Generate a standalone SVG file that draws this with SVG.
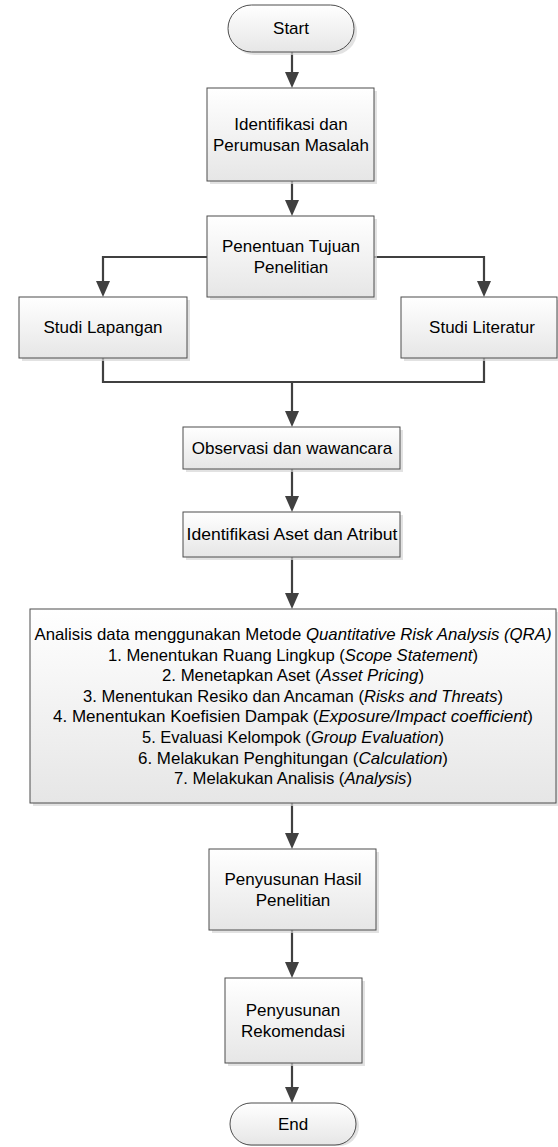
<svg xmlns="http://www.w3.org/2000/svg" width="558" height="1147" viewBox="0 0 558 1147">
<style>
.box{fill:url(#g);stroke:#4d4d4d;stroke-width:1}
.sh{fill:#d6d6d6;opacity:0.7}
.t{font-family:"Liberation Sans",Arial,sans-serif;font-size:17px;fill:#000;text-anchor:middle}
.q{font-family:"Liberation Sans",Arial,sans-serif;font-size:16.5px;fill:#000;text-anchor:middle}
.i{font-style:italic}
.c{fill:none;stroke:#404040;stroke-width:2.2}
</style>
<defs>
<linearGradient id="g" x1="0" y1="0" x2="0" y2="1">
<stop offset="0" stop-color="#ffffff"/>
<stop offset="1" stop-color="#e6e6e6"/>
</linearGradient>
<marker id="a" markerUnits="userSpaceOnUse" viewBox="0 0 16 14" markerWidth="16" markerHeight="14" refX="12" refY="7" orient="auto">
<path d="M0,0 L16,7 L0,14 z" fill="#404040"/>
</marker>
</defs>
<rect width="558" height="1147" fill="#ffffff"/>
<g id="connectors">
<polyline class="c" points="292,52 292,84" marker-end="url(#a)"/>
<polyline class="c" points="292,181 292,212" marker-end="url(#a)"/>
<polyline class="c" points="207,257 103,257 103,293" marker-end="url(#a)"/>
<polyline class="c" points="374,257 484,257 484,293" marker-end="url(#a)"/>
<polyline class="c" points="103,358 103,382 484,382 484,358"/>
<polyline class="c" points="292,382 292,423" marker-end="url(#a)"/>
<polyline class="c" points="292,469 292,508" marker-end="url(#a)"/>
<polyline class="c" points="292,557 292,605" marker-end="url(#a)"/>
<polyline class="c" points="292,803 292,845" marker-end="url(#a)"/>
<polyline class="c" points="292,930 292,974" marker-end="url(#a)"/>
<polyline class="c" points="292,1063 292,1099" marker-end="url(#a)"/>
</g>
<g id="start">
<rect class="sh" x="231" y="8" width="126" height="47" rx="23.5"/>
<rect class="box" x="228" y="5" width="126" height="47" rx="23.5"/>
<text class="t" x="291" y="34">Start</text>
</g>
<g id="identifikasi">
<rect class="sh" x="210" y="91" width="167" height="93"/>
<rect class="box" x="207" y="88" width="167" height="93"/>
<text class="t" x="291" y="129.5">Identifikasi dan</text>
<text class="t" x="291" y="150.5">Perumusan Masalah</text>
</g>
<g id="penentuan">
<rect class="sh" x="210" y="219" width="167" height="81"/>
<rect class="box" x="207" y="216" width="167" height="81"/>
<text class="t" x="291" y="251.5">Penentuan Tujuan</text>
<text class="t" x="291" y="272.5">Penelitian</text>
</g>
<g id="studi-lapangan">
<rect class="sh" x="22" y="300" width="168" height="61"/>
<rect class="box" x="19" y="297" width="168" height="61"/>
<text class="t" x="103" y="333">Studi Lapangan</text>
</g>
<g id="studi-literatur">
<rect class="sh" x="404" y="300" width="156" height="61"/>
<rect class="box" x="401" y="297" width="156" height="61"/>
<text class="t" x="482" y="333">Studi Literatur</text>
</g>
<g id="observasi">
<rect class="sh" x="186" y="430" width="217" height="42"/>
<rect class="box" x="183" y="427" width="217" height="42"/>
<text class="t" x="292" y="454">Observasi dan wawancara</text>
</g>
<g id="identifikasi-aset">
<rect class="sh" x="186" y="515" width="217" height="45"/>
<rect class="box" x="183" y="512" width="217" height="45"/>
<text class="t" x="292" y="540" textLength="211" lengthAdjust="spacingAndGlyphs">Identifikasi Aset dan Atribut</text>
</g>
<g id="analisis">
<rect class="sh" x="33" y="612" width="526" height="194"/>
<rect class="box" x="30" y="609" width="526" height="194"/>
<text class="q" x="293" y="640" textLength="517" lengthAdjust="spacingAndGlyphs">Analisis data menggunakan Metode <tspan class="i">Quantitative Risk Analysis (QRA)</tspan></text>
<text class="q" x="293" y="660.6" textLength="370" lengthAdjust="spacingAndGlyphs">1. Menentukan Ruang Lingkup (<tspan class="i">Scope Statement</tspan>)</text>
<text class="q" x="293" y="681.2" textLength="262" lengthAdjust="spacingAndGlyphs">2. Menetapkan Aset (<tspan class="i">Asset Pricing</tspan>)</text>
<text class="q" x="293" y="701.8" textLength="420" lengthAdjust="spacingAndGlyphs">3. Menentukan Resiko dan Ancaman (<tspan class="i">Risks and Threats</tspan>)</text>
<text class="q" x="293" y="722.4" textLength="480" lengthAdjust="spacingAndGlyphs">4. Menentukan Koefisien Dampak (<tspan class="i">Exposure/Impact coefficient</tspan>)</text>
<text class="q" x="293" y="743" textLength="302" lengthAdjust="spacingAndGlyphs">5. Evaluasi Kelompok (<tspan class="i">Group Evaluation</tspan>)</text>
<text class="q" x="293" y="763.6" textLength="310" lengthAdjust="spacingAndGlyphs">6. Melakukan Penghitungan (<tspan class="i">Calculation</tspan>)</text>
<text class="q" x="293" y="784.2" textLength="238" lengthAdjust="spacingAndGlyphs">7. Melakukan Analisis (<tspan class="i">Analysis</tspan>)</text>
</g>
<g id="penyusunan-hasil">
<rect class="sh" x="212" y="852" width="167" height="81"/>
<rect class="box" x="209" y="849" width="167" height="81"/>
<text class="t" x="293" y="884.5">Penyusunan Hasil</text>
<text class="t" x="293" y="905.5">Penelitian</text>
</g>
<g id="penyusunan-rekomendasi">
<rect class="sh" x="228" y="981" width="137" height="85"/>
<rect class="box" x="225" y="978" width="137" height="85"/>
<text class="t" x="293" y="1015.5">Penyusunan</text>
<text class="t" x="293" y="1036.5">Rekomendasi</text>
</g>
<g id="end">
<rect class="sh" x="233" y="1106" width="126" height="40" rx="20"/>
<rect class="box" x="230" y="1103" width="126" height="42" rx="21"/>
<text class="t" x="293" y="1130">End</text>
</g>
</svg>
